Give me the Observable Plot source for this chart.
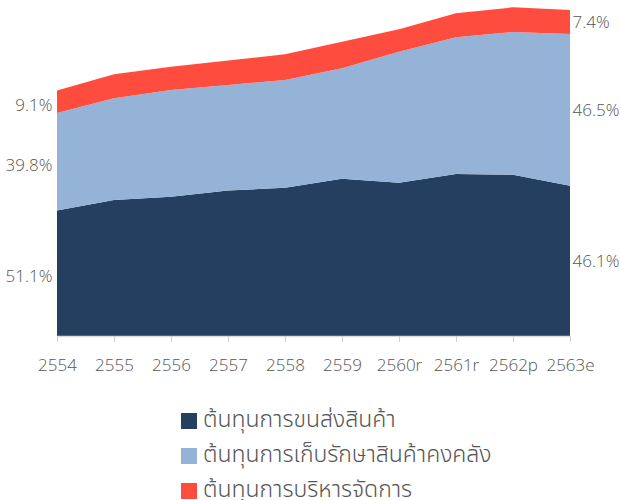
<!DOCTYPE html>
<html>
<head>
<meta charset="utf-8">
<script src="https://cdn.jsdelivr.net/npm/d3@7"></script>
<script src="https://cdn.jsdelivr.net/npm/@observablehq/plot@0.6"></script>
<style>
  body { margin: 0; background: #fff; font-family: "Noto Sans Thai", "Open Sans", "Noto Sans", sans-serif; overflow: hidden; }
  #chart { width: 620px; }
  .legend { padding-top: 23px; padding-left: 181px; }
  .item { display: flex; align-items: center; height: 35px; font-size: 23px; line-height: 35px; color: #555; font-weight: 300; white-space: nowrap; }
  .sw { width: 16px; height: 16px; margin-right: 6px; flex: none; }
</style>
</head>
<body>
<div id="chart"></div>
<script>
const years = ["2554", "2555", "2556", "2557", "2558", "2559", "2560r", "2561r", "2562p", "2563e"];
const seriesNames = ["ต้นทุนการขนส่งสินค้า", "ต้นทุนการเก็บรักษาสินค้าคงคลัง", "ต้นทุนการบริหารจัดการ"];
const transport   = [890, 966, 989, 1032, 1053, 1117, 1088, 1150, 1145, 1067];
const warehousing = [693, 722, 758, 750, 765, 784, 930, 971, 1013, 1076];
const admin       = [159, 170, 165, 173, 182, 187, 159, 170, 175, 171];
const leftLabels  = ["51.1%", "39.8%", "9.1%"];
const rightLabels = ["46.1%", "46.5%", "7.4%"];
const colors = ["#243f60", "#95b3d7", "#fe4d3e"];

const seriesValues = [transport, warehousing, admin];
const data = [];
years.forEach((yr, i) => {
  seriesValues.forEach((vals, s) => data.push({year: yr, series: seriesNames[s], value: vals[i]}));
});

function mids(i) {
  let acc = 0;
  return seriesValues.map(vals => { const m = acc + vals[i] / 2; acc += vals[i]; return m; });
}
const last = years.length - 1;
const leftData = mids(0).map((m, s) => ({year: years[0], y: m, text: leftLabels[s]}));
const rightData = mids(last).map((m, s) => ({year: years[last], y: m, text: rightLabels[s]}));

const chart = Plot.plot({
  width: 620,
  height: 380,
  marginLeft: 57,
  marginRight: 50,
  marginTop: 0,
  marginBottom: 44,
  style: {fontFamily: "'Open Sans', 'Noto Sans', sans-serif", fontSize: "17px"},
  x: {type: "point", domain: years, padding: 0, label: null},
  y: {domain: [0, 2385], axis: null},
  color: {domain: seriesNames, range: colors},
  marks: [
    Plot.areaY(data, {x: "year", y: "value", fill: "series", order: seriesNames}),
    Plot.ruleY([0], {stroke: "#dcdcdc", strokeWidth: 1.5}),
    Plot.axisX({tickSize: 6, stroke: "#d0d0d0", tickPadding: 16, fontSize: 17, fill: "#555", fontWeight: 300}),
    Plot.text(leftData, {x: "year", y: "y", text: "text", textAnchor: "end", dx: -5, dy: 3, fill: "#555", fontSize: 17, fontWeight: 300}),
    Plot.text(rightData, {x: "year", y: "y", text: "text", textAnchor: "start", dx: 2, fill: "#555", fontSize: 17, fontWeight: 300})
  ]
});
document.getElementById("chart").appendChild(chart);

const legend = document.createElement("div");
legend.className = "legend";
seriesNames.forEach((name, s) => {
  const item = document.createElement("div");
  item.className = "item";
  const sw = document.createElement("span");
  sw.className = "sw";
  sw.style.background = colors[s];
  const t = document.createElement("span");
  t.textContent = name;
  item.appendChild(sw);
  item.appendChild(t);
  legend.appendChild(item);
});
document.getElementById("chart").appendChild(legend);
</script>
</body>
</html>
